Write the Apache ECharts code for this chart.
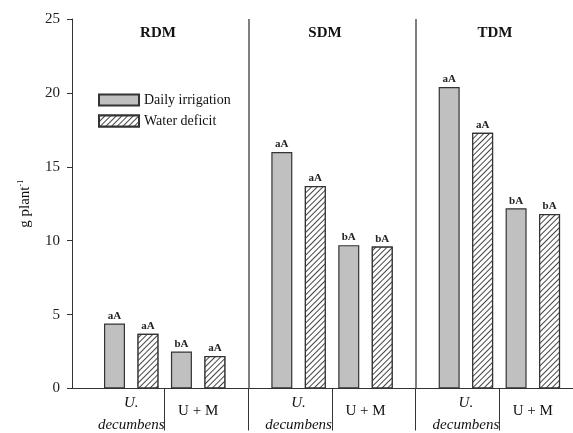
<!DOCTYPE html>
<html>
<head>
<meta charset="utf-8">
<script src="https://cdn.jsdelivr.net/npm/echarts@6/dist/echarts.min.js"></script>
<style>html,body{margin:0;padding:0;background:#fff;}#c{width:573px;height:433px;}</style>
</head>
<body>
<div id="c"></div>
<script>
const panels = ['RDM', 'SDM', 'TDM'];
const groups = ['U. decumbens', 'U + M'];
const seriesNames = ['Daily irrigation', 'Water deficit'];
// order: RDM U.d, RDM U+M, SDM U.d, SDM U+M, TDM U.d, TDM U+M
const dailyIrrigation = [4.4, 2.5, 16.0, 9.7, 20.4, 12.2];
const waterDeficit = [3.7, 2.2, 13.7, 9.6, 17.3, 11.8];
const dailyLetters = ['aA', 'bA', 'aA', 'bA', 'aA', 'bA'];
const deficitLetters = ['aA', 'aA', 'aA', 'bA', 'aA', 'bA'];
const yTicks = [0, 5, 10, 15, 20, 25];

const FONT = 'Liberation Serif';
// slot index: 5 slots per panel (2 groups x 2 bars + 1 gap)
function slot(k, s) { return Math.floor(k / 2) * 5 + (k % 2) * 2 + s; }
function groupCenter(k) { return slot(k, 0) + 0.5; }

const labelByCenter = {};
for (let k = 0; k < 6; k++) labelByCenter[groupCenter(k).toFixed(2)] = groups[k % 2];
const groupSeps = [];
for (let p = 0; p < panels.length; p++) {
  groupSeps.push(p * 5 + 1.5);
  if (p < panels.length - 1) groupSeps.push(p * 5 + 4);
}
const panelSeps = [];
for (let p = 0; p < panels.length - 1; p++) panelSeps.push(p * 5 + 4);

function mkData(vals, letters, s) {
  return vals.map((v, k) => ({ value: [slot(k, s), v], letter: letters[k] }));
}

const chart = echarts.init(document.getElementById('c'), null, { renderer: 'canvas' });
const commonLabel = {
  show: true, position: 'top', distance: 2,
  fontFamily: FONT, fontWeight: 'bold', fontSize: 11, color: '#222',
  formatter: p => p.data.letter
};
const titleX = [153, 320, 490];
chart.setOption({
  animation: false,
  textStyle: { fontFamily: FONT },
  title: panels.map((t, i) => ({
    text: t, left: titleX[i], top: 21, textAlign: 'center',
    textStyle: { fontFamily: FONT, fontWeight: 'bold', fontSize: 15, color: '#111' }
  })),
  legend: {
    orient: 'vertical', left: 93, top: 88, itemWidth: 40, itemHeight: 11, itemGap: 7,
    icon: 'rect',
    textStyle: { fontFamily: FONT, fontSize: 14, color: '#111' },
    data: seriesNames
  },
  grid: { left: 72, right: 0, top: 19, bottom: 41, containLabel: false },
  xAxis: {
    type: 'value', min: -1.27, max: 13.70,
    splitLine: { show: false },
    axisLine: { show: true, onZero: false, lineStyle: { color: '#333', width: 1 } },
    axisTick: { show: true, customValues: groupSeps, length: 42, inside: false, lineStyle: { color: '#333', width: 1 } },
    axisLabel: {
      show: true, customValues: [0, 1, 2, 3, 4, 5].map(groupCenter), margin: 4,
      formatter: v => {
        const name = labelByCenter[v.toFixed(2)];
        if (name === groups[0]) return '{i|U.}\n{i|decumbens}';
        return '{n|' + name + '}';
      },
      rich: {
        i: { fontFamily: FONT, fontStyle: 'italic', fontSize: 15, lineHeight: 22, color: '#111' },
        n: { fontFamily: FONT, fontSize: 15, lineHeight: 38, color: '#111' }
      }
    }
  },
  yAxis: {
    type: 'value', min: 0, max: 25, interval: 5,
    name: '{t|g plant}{s|-1}', nameLocation: 'middle', nameGap: 39, nameRotate: 90,
    nameTextStyle: {
      rich: {
        t: { fontFamily: FONT, fontSize: 15, color: '#111' },
        s: { fontFamily: FONT, fontSize: 8, color: '#111', verticalAlign: 'top', padding: [0, 0, 8, 0] }
      }
    },
    splitLine: { show: false },
    axisLine: { show: true, onZero: false, lineStyle: { color: '#333', width: 1 } },
    axisTick: { show: true, length: 5, inside: false, lineStyle: { color: '#333' } },
    axisLabel: { fontFamily: FONT, fontSize: 15, color: '#222', margin: 12, formatter: v => yTicks.includes(v) ? String(v) : '' }
  },
  series: [
    {
      name: seriesNames[0], type: 'bar', barWidth: 21, barGap: '-100%',
      itemStyle: { color: '#c0c0c0', borderColor: '#333', borderWidth: 1.2 },
      label: commonLabel,
      data: mkData(dailyIrrigation, dailyLetters, 0),
      markLine: {
        silent: true, symbol: 'none', label: { show: false },
        lineStyle: { type: 'solid', color: '#555', width: 1.5 },
        data: panelSeps.map(x => [{ coord: [x, 0] }, { coord: [x, 25] }])
      }
    },
    {
      name: seriesNames[1], type: 'bar', barWidth: 21, barGap: '-100%',
      itemStyle: {
        color: '#fff', borderColor: '#333', borderWidth: 1.2,
        decal: { symbol: 'rect', symbolSize: 1, dashArrayX: [1, 0], dashArrayY: [1, 2.6], rotation: -Math.PI / 4, color: '#444', backgroundColor: '#fff' }
      },
      label: commonLabel,
      data: mkData(waterDeficit, deficitLetters, 1)
    }
  ]
});
</script>
</body>
</html>
